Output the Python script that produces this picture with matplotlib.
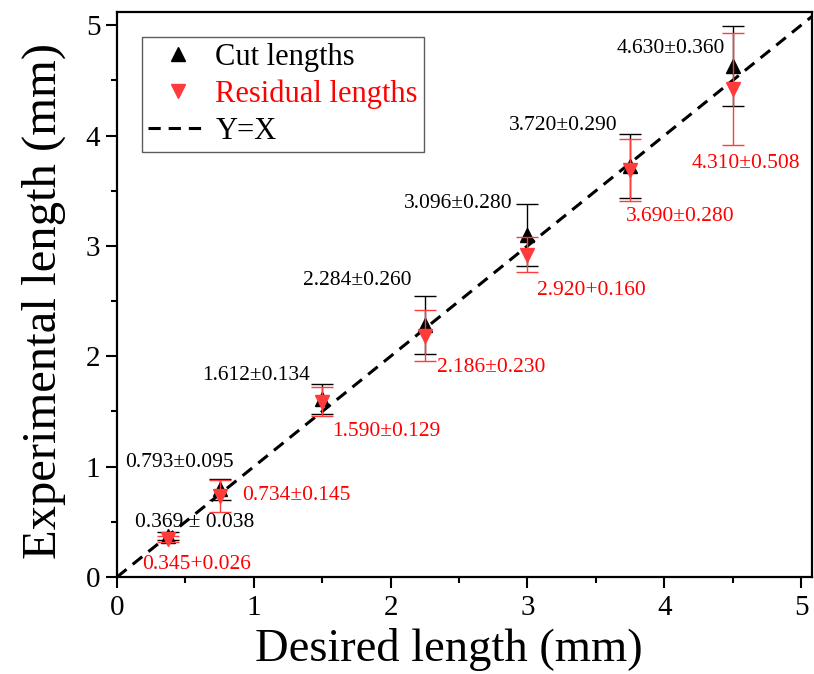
import numpy as np
import matplotlib
matplotlib.use("Agg")
import matplotlib.pyplot as plt
from matplotlib.lines import Line2D

plt.rcParams["font.family"] = ["Liberation Serif", "DejaVu Serif"]

# desired lengths (mm)
desired = [0.375, 0.75, 1.5, 2.25, 3.0, 3.75, 4.5]

# cut lengths: mean and std
cut_mean = [0.369, 0.793, 1.612, 2.284, 3.096, 3.720, 4.630]
cut_err = [0.038, 0.095, 0.134, 0.260, 0.280, 0.290, 0.360]
cut_text = ["0.369 \u00b1 0.038", "0.793\u00b10.095", "1.612\u00b10.134",
            "2.284\u00b10.260", "3.096\u00b10.280", "3.720\u00b10.290",
            "4.630\u00b10.360"]

# residual lengths: mean and std (as drawn in the picture)
res_mean = [0.345, 0.734, 1.590, 2.186, 2.920, 3.690, 4.420]
res_err = [0.026, 0.145, 0.129, 0.230, 0.160, 0.280, 0.508]
res_text = ["0.345+0.026", "0.734\u00b10.145", "1.590\u00b10.129",
            "2.186\u00b10.230", "2.920+0.160", "3.690\u00b10.280",
            "4.310\u00b10.508"]

# label placement, pixels from the point (x right, y up)
cut_off = [(26, 14), (-40, 27), (-66, 24), (-68, 44), (-69, 32), (-67, 41), (-62, 18)]
res_off = [(28, -26), (77, 1), (64, -30), (66, -32), (64, -36), (50, -47), (13, -74)]

RED = "#ff3b3b"
DASH = (0, (4, 2.6))

fig = plt.figure(figsize=(8.14, 6.74), dpi=100)
ax = fig.add_axes([117 / 814, 1 - 577 / 674, 695 / 814, 565 / 674])

line = np.array([0, 6])
ax.plot(line, line, ls=DASH, color="black", lw=2.2, zorder=2)

ax.errorbar(desired, cut_mean, yerr=cut_err, fmt="^", color="black", ms=10,
            ecolor="black", elinewidth=1.0, capsize=8, capthick=1.0, zorder=3)
ax.errorbar(desired, res_mean, yerr=res_err, fmt="v", color=RED, ms=10,
            ecolor=RED, elinewidth=1.0, capsize=8, capthick=1.0, zorder=4)

for x, y, t, (dx, dy) in zip(desired, cut_mean, cut_text, cut_off):
    ax.annotate(t, (x, y), xytext=(dx, dy), textcoords="offset pixels",
                ha="center", va="center", fontsize=15.5, color="black")
for x, y, t, (dx, dy) in zip(desired, res_mean, res_text, res_off):
    ax.annotate(t, (x, y), xytext=(dx, dy), textcoords="offset pixels",
                ha="center", va="center", fontsize=15.5, color="red")

ax.set_xlim(0, 5.08)
ax.set_ylim(0, 5.12)
ax.set_xticks(range(6))
ax.set_yticks(range(6))
ax.set_xticks(np.arange(0.5, 5.1, 1), minor=True)
ax.set_yticks(np.arange(0.5, 5.1, 1), minor=True)
ax.tick_params(which="major", direction="out", length=8, width=1.5, labelsize=21)
ax.tick_params(which="minor", direction="out", length=4.5, width=1.5)
ax.tick_params(axis="x", which="major", pad=5)
ax.tick_params(axis="y", which="major", pad=4)
for s in ax.spines.values():
    s.set_linewidth(1.6)

ax.set_xlabel("Desired length (mm)", fontsize=33.5, va="baseline")
ax.xaxis.set_label_coords(0.478, -0.148)
ax.set_ylabel("Experimental length (mm)", fontsize=35, va="center")
ax.yaxis.set_label_coords(-0.106, 0.488)

handles = [
    Line2D([], [], ls="none", marker="^", color="black", ms=10),
    Line2D([], [], ls="none", marker="v", color=RED, ms=10),
    Line2D([], [], ls=DASH, color="black", lw=2.2),
]
labels = ["Cut lengths", "Residual lengths", "Y=X"]
leg = ax.legend(handles, labels,
                loc="upper left", bbox_to_anchor=(0.036, 0.956), borderaxespad=0,
                fontsize=22, frameon=True, fancybox=False, edgecolor="#333333",
                handlelength=1.95, handletextpad=0.25, labelspacing=0.25,
                borderpad=0.2)
leg.get_frame().set_linewidth(1.0)
for txt, c in zip(leg.get_texts(), ["black", "red", "black"]):
    txt.set_color(c)

fig.savefig("out.png", dpi=100)
